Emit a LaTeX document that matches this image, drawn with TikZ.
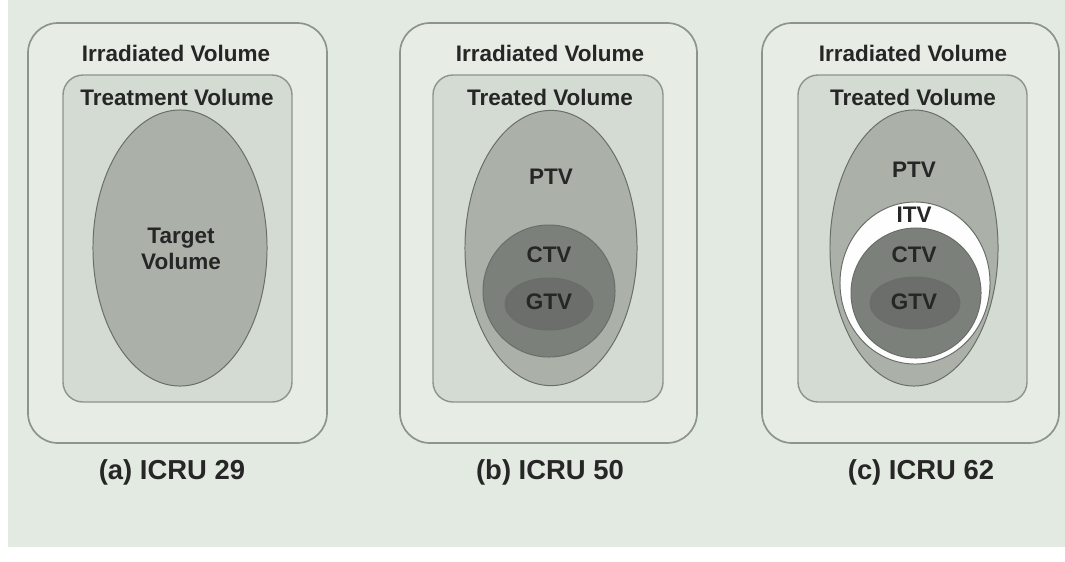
\documentclass[tikz,border=0pt]{standalone}
\usepackage{fontspec}
\setmainfont{Liberation Sans}
\usetikzlibrary{shapes.geometric}

\definecolor{bgpanel}{HTML}{E3EAE1}
\definecolor{irrfill}{HTML}{E7EDE5}
\definecolor{treatfill}{HTML}{D3DBD2}
\definecolor{ptvfill}{HTML}{ABB1A9}
\definecolor{ctvfill}{HTML}{7C807A}
\definecolor{gtvfill}{HTML}{6B6E6B}
\definecolor{edgegray}{HTML}{8C948B}
\definecolor{labelgray}{HTML}{262626}

\begin{document}
\begin{tikzpicture}[x=0.025cm, y=-0.025cm,
  irrbox/.style={draw=edgegray, line width=1.2pt, fill=irrfill, rounded corners=0.75cm},
  treatbox/.style={draw=edgegray, line width=1pt, fill=treatfill, rounded corners=0.5cm},
  vol/.style={draw=edgegray!75!black, line width=0.7pt},
  lbl/.style={text=labelgray, font=\bfseries\fontsize{16}{19}\selectfont, inner sep=0pt},
  captext/.style={text=black!85, font=\bfseries\fontsize{19.5}{22}\selectfont, inner sep=0pt}]
  \useasboundingbox (0,0) rectangle (1065,561);
  \fill[bgpanel] (8,0) rectangle (1065,547);

  % (a) ICRU 29
  \draw[irrbox] (28,23) rectangle (327,443);
  \draw[treatbox] (63,75) rectangle (292,402);
  \draw[vol, fill=ptvfill] (180,248) ellipse [x radius=2.175cm, y radius=3.45cm];
  \node[lbl] (irra) at (176,53) {Irradiated Volume};
  \node[lbl] (treata) at (177,97) {Treatment Volume};
  \node[lbl, align=center] (tva) at (181,249) {Target\\Volume};
  \node[captext] (capa) at (172,472) {(a) ICRU 29};

  % (b) ICRU 50
  \draw[irrbox] (400,23) rectangle (697,443);
  \draw[treatbox] (433,75) rectangle (663,402);
  \draw[vol, fill=ptvfill] (551,248) ellipse [x radius=2.15cm, y radius=3.44cm];
  \draw[vol, fill=ctvfill] (549,291) circle [radius=1.65cm];
  \draw[vol, fill=gtvfill] (549,304) ellipse [x radius=1.1cm, y radius=0.65cm];
  \node[lbl] (irrb) at (550,53) {Irradiated Volume};
  \node[lbl] (treatb) at (550,97) {Treated Volume};
  \node[lbl] (ptvb) at (551,177) {PTV};
  \node[lbl] (ctvb) at (549,255) {CTV};
  \node[lbl] (gtvb) at (549,302) {GTV};
  \node[captext] (capb) at (550,472) {(b) ICRU 50};

  % (c) ICRU 62
  \draw[irrbox] (762,23) rectangle (1059,443);
  \draw[treatbox] (798,75) rectangle (1027,402);
  \draw[vol, fill=ptvfill] (914,248) ellipse [x radius=2.1cm, y radius=3.45cm];
  \draw[vol, fill=white!95!bgpanel] (915,283) ellipse [x radius=1.875cm, y radius=2.025cm];
  \draw[vol, fill=ctvfill] (916,293) circle [radius=1.625cm];
  \draw[vol, fill=gtvfill] (915,303) ellipse [x radius=1.125cm, y radius=0.65cm];
  \node[lbl] (irrc) at (913,53) {Irradiated Volume};
  \node[lbl] (treatc) at (913,97) {Treated Volume};
  \node[lbl] (ptvc) at (914,170) {PTV};
  \node[lbl] (itvc) at (914,215) {ITV};
  \node[lbl] (ctvc) at (914,255) {CTV};
  \node[lbl] (gtvc) at (914,302) {GTV};
  \node[captext] (capc) at (921,472) {(c) ICRU 62};
\end{tikzpicture}
\end{document}
